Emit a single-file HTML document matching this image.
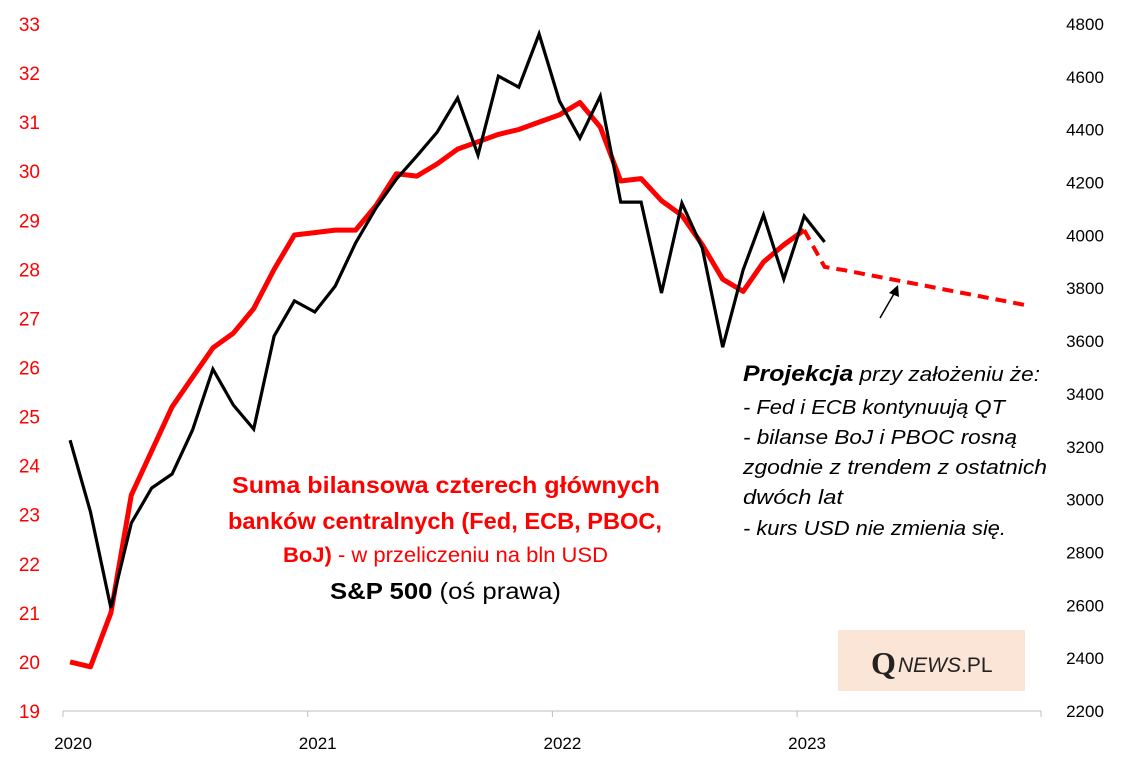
<!DOCTYPE html>
<html><head><meta charset="utf-8"><style>
body{margin:0;background:#fff;}
svg text{font-family:"Liberation Sans",sans-serif;}
</style></head><body>
<svg id="c" width="1123" height="768" viewBox="0 0 1123 768" xmlns="http://www.w3.org/2000/svg">
<g id="axes"></g>
<g id="series"></g>
<g>
<text x="232" y="493" font-size="23" font-weight="bold" fill="#ff0000" textLength="428" lengthAdjust="spacingAndGlyphs">Suma bilansowa czterech głównych</text>
<text x="228" y="529" font-size="23" font-weight="bold" fill="#ff0000" textLength="434" lengthAdjust="spacingAndGlyphs">banków centralnych (Fed, ECB, PBOC,</text>
<text x="283" y="562" font-size="21" fill="#ff0000" textLength="325" lengthAdjust="spacingAndGlyphs"><tspan font-weight="bold">BoJ)</tspan> - w przeliczeniu na bln USD</text>
<text x="330" y="599" font-size="23" fill="#000" textLength="231" lengthAdjust="spacingAndGlyphs"><tspan font-weight="bold">S&amp;P 500</tspan> (oś prawa)</text>
</g>
<g font-style="italic" font-size="20" fill="#000">
<text x="743" y="381" textLength="297" lengthAdjust="spacingAndGlyphs"><tspan font-weight="bold" font-size="22">Projekcja</tspan> przy założeniu że:</text>
<text x="743" y="414" textLength="262" lengthAdjust="spacingAndGlyphs">- Fed i ECB kontynuują QT</text>
<text x="743" y="444" textLength="274" lengthAdjust="spacingAndGlyphs">- bilanse BoJ i PBOC rosną</text>
<text x="743" y="474" textLength="304" lengthAdjust="spacingAndGlyphs">zgodnie z trendem z ostatnich</text>
<text x="743" y="504" textLength="100" lengthAdjust="spacingAndGlyphs">dwóch lat</text>
<text x="743" y="535" textLength="263" lengthAdjust="spacingAndGlyphs">- kurs USD nie zmienia się.</text>
</g>
<g>
<line x1="880" y1="318" x2="895" y2="292" stroke="#000" stroke-width="1.5"/>
<polygon points="898,285 889,293 899,297" fill="#000"/>
</g>
<g>
<rect x="838" y="630" width="187" height="61" fill="#fbe5d6"/>
<text x="871" y="674" font-family="Liberation Serif" font-size="32" font-weight="bold" fill="#222" style="font-family:'Liberation Serif',serif">Q</text>
<text x="898" y="672" font-size="21" font-style="italic" fill="#222">NEWS<tspan font-style="normal">.PL</tspan></text>
</g>
</svg>
<script>
const years=["2020","2021","2022","2023"];
const leftTicks=[19,20,21,22,23,24,25,26,27,28,29,30,31,32,33];
const rightTicks=[2200,2400,2600,2800,3000,3200,3400,3600,3800,4000,4200,4400,4600,4800];
const balance=[20.0,19.9,21.0,23.4,24.3,25.2,25.8,26.4,26.7,27.2,28.0,28.7,28.75,28.8,28.8,29.3,29.95,29.9,30.15,30.45,30.6,30.75,30.85,31.0,31.15,31.4,30.9,29.8,29.85,29.4,29.1,28.5,27.8,27.55,28.15,28.5,28.8];
const projection=[28.8,28.05,27.98,27.9,27.82,27.74,27.66,27.58,27.5,27.42,27.34,27.26];
const sp500=[3225,2953,2590,2911,3044,3097,3263,3494,3358,3267,3619,3752,3710,3808,3971,4104,4213,4300,4391,4520,4304,4603,4561,4762,4508,4368,4527,4126,4126,3782,4122,3952,3577,3869,4077,3835,4073,3975];
const NS="http://www.w3.org/2000/svg";
const yL=v=>711-(v-19)*(687/14);
const yR=v=>711-(v-2200)*(687/2600);
const xM=i=>63+(i+0.35)*(244.7/12);
const ax=document.getElementById('axes'),se=document.getElementById('series');
function mk(t,a,p){const e=document.createElementNS(NS,t);for(const k in a)e.setAttribute(k,a[k]);p.appendChild(e);return e;}
const xa=mk('line',{x1:63,y1:711,x2:1041,y2:711,stroke:'#bfbfbf','stroke-width':1},ax);


years.forEach((y,i)=>{const x=63+i*244.7;
 const t=mk('line',{x1:x,y1:711,x2:x,y2:717,stroke:'#bfbfbf'},ax);
 
 
 const l=mk('text',{x:x+10,y:749,'font-size':17,'text-anchor':'middle',fill:'#000'},ax);l.textContent=y;
 
 });
const lt=mk('line',{x1:1041,y1:711,x2:1041,y2:717,stroke:'#bfbfbf'},ax);


leftTicks.forEach(v=>{const l=mk('text',{x:40,y:yL(v)+7,'font-size':19,'text-anchor':'end',fill:'#ff0000'},ax);l.textContent=v;
 
 });
rightTicks.forEach(v=>{const l=mk('text',{x:1085,y:yR(v)+6,'font-size':17,'text-anchor':'middle',fill:'#000'},ax);l.textContent=v;
 
 });
const pts=(arr,f,o)=>arr.map((v,i)=>xM(i+o).toFixed(1)+','+f(v).toFixed(1)).join(' ');
const pr=mk('polyline',{points:pts(projection,yL,36),fill:'none',stroke:'#ff0000','stroke-width':4,'stroke-dasharray':'11,7'},se);


const bl=mk('polyline',{points:pts(balance,yL,0),fill:'none',stroke:'#ff0000','stroke-width':5,'stroke-linejoin':'round'},se);


const sl=mk('polyline',{points:pts(sp500,yR,0),fill:'none',stroke:'#000','stroke-width':3.2},se);


</script>
</body></html>
